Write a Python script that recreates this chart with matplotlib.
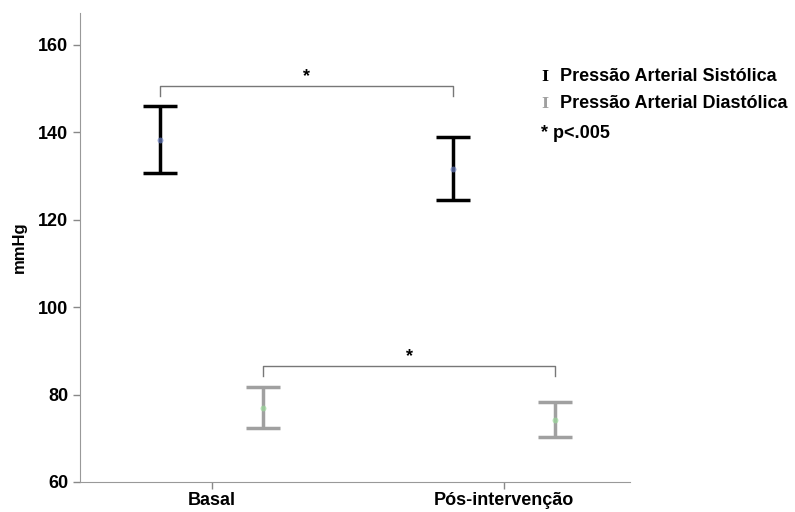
import matplotlib.pyplot as plt

plt.rcParams['font.family'] = ['Liberation Sans', 'DejaVu Sans']

# data
groups = ["Basal", "Pós-intervenção"]
sys_mean = [138.3, 131.6]
sys_low = [130.7, 124.6]
sys_high = [146.1, 138.9]
dia_mean = [77.0, 74.2]
dia_low = [72.3, 70.3]
dia_high = [81.8, 78.2]

fig = plt.figure(figsize=(7.95, 5.12), dpi=100)
ax = fig.add_axes([0.1006, 0.0586, 0.692, 0.916])

x = [0, 1]
off = 0.175
xs = [i - off for i in x]
xd = [i + off for i in x]

def draw_bars(xpos, mean, low, high, color, dotcolor):
    yerr = [[m - l for m, l in zip(mean, low)], [h - m for m, h in zip(mean, high)]]
    ax.errorbar(xpos, mean, yerr=yerr, fmt='none', ecolor=color,
                elinewidth=2.5, capsize=12, capthick=2.5, zorder=3)
    ax.scatter(xpos, mean, s=18, color=dotcolor, alpha=0.7, zorder=4, linewidths=0)

draw_bars(xs, sys_mean, sys_low, sys_high, 'black', '#6a7fc0')
draw_bars(xd, dia_mean, dia_low, dia_high, '#a0a0a0', '#9ad89a')

# significance brackets
def bracket(x0, x1, y, h, ystar):
    ax.plot([x0, x0, x1, x1], [y - h, y, y, y - h], color='#777777', lw=1, zorder=2)
    ax.text((x0 + x1) / 2, ystar, '*', ha='center', va='center',
            fontsize=13, fontweight='bold')

bracket(xs[0], xs[1], 150.6, 2.2, 152.8)
bracket(xd[0], xd[1], 86.6, 2.3, 88.8)

ax.set_xlim(-0.45, 1.43)
ax.set_ylim(60, 167.3)
ax.set_yticks([60, 80, 100, 120, 140, 160])
ax.set_xticks(x)
ax.set_xticklabels(groups)
ax.tick_params(axis='both', labelsize=13, color='#888888', length=5, width=1)
for lab in ax.get_xticklabels() + ax.get_yticklabels():
    lab.set_fontweight('bold')
ax.tick_params(axis='x', pad=2)
ax.set_ylabel('mmHg', fontsize=12, fontweight='bold', labelpad=8)

ax.spines['top'].set_visible(False)
ax.spines['right'].set_visible(False)
ax.spines['left'].set_color('#999999')
ax.spines['bottom'].set_color('#999999')

# legend
legend_rows = [("Pressão Arterial Sistólica", 'black', 0.850),
               ("Pressão Arterial Diastólica", '#a0a0a0', 0.797)]
for label, col, yy in legend_rows:
    fig.text(545 / 795, yy, 'I', color=col, fontsize=11, fontweight='bold',
             family='DejaVu Serif', va='center', ha='center')
    fig.text(560 / 795, yy, label, fontsize=13, fontweight='bold', va='center')
fig.text(541 / 795, 0.740, '* p<.005', fontsize=13, fontweight='bold', va='center')

fig.savefig('out.png', dpi=100)
